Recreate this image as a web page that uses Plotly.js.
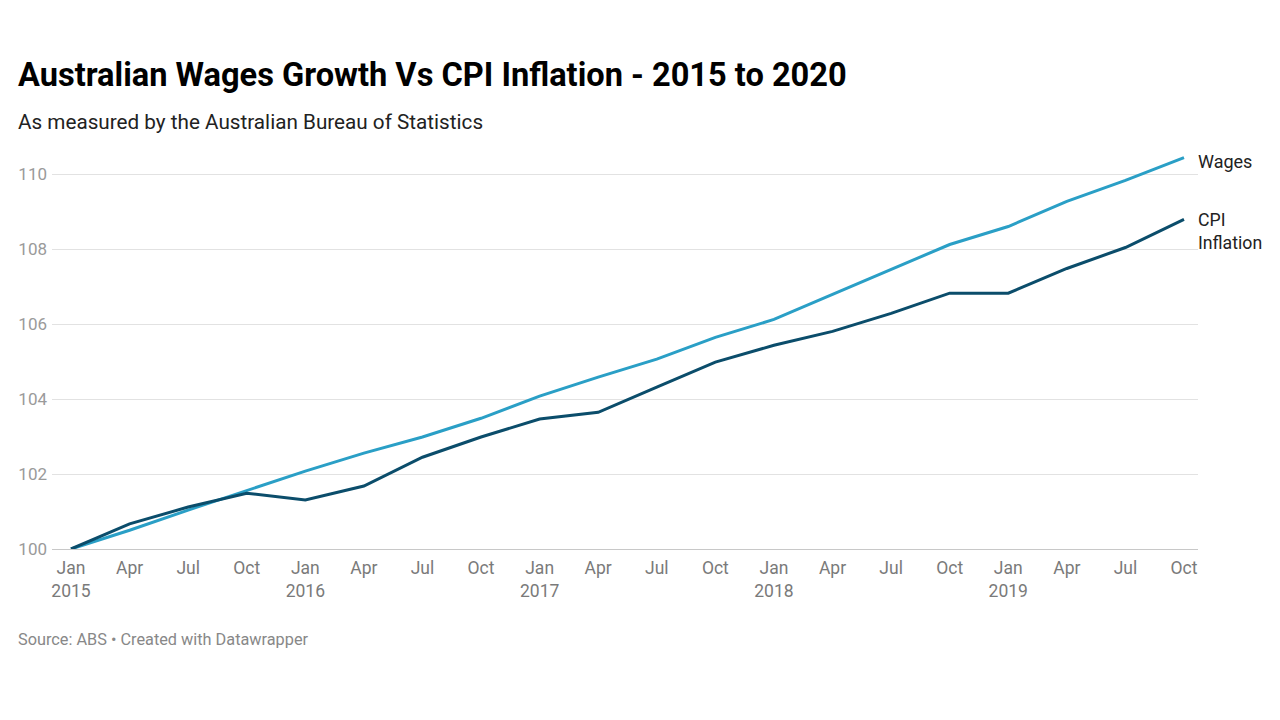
<!DOCTYPE html>
<html>
<head>
<meta charset="utf-8">
<script src="https://cdn.plot.ly/plotly-3.0.1.min.js"></script>
<style>
html,body{margin:0;padding:0;background:#fff;}
#chart{width:1280px;height:720px;}
</style>
</head>
<body>
<div id="chart"></div>
<script>
var quarterLabels = ["Jan<br>2015","Apr","Jul","Oct","Jan<br>2016","Apr","Jul","Oct","Jan<br>2017","Apr","Jul","Oct","Jan<br>2018","Apr","Jul","Oct","Jan<br>2019","Apr","Jul","Oct"];
var wages = [100, 100.5, 101.04, 101.57, 102.08, 102.56, 102.99, 103.49, 104.08, 104.59, 105.07, 105.65, 106.13, 106.8, 107.47, 108.13, 108.61, 109.28, 109.84, 110.45];
var cpi = [100, 100.67, 101.12, 101.49, 101.31, 101.68, 102.45, 102.99, 103.47, 103.65, 104.32, 104.99, 105.44, 105.81, 106.29, 106.83, 106.83, 107.49, 108.05, 108.8];
var yTicks = [100, 102, 104, 106, 108, 110];

var xIdx = quarterLabels.map(function(_, i){ return i; });
var FONT = "Roboto, 'Noto Sans', sans-serif";
var last = xIdx.length - 1;

var PLOT_TOP = 151.5, PLOT_BOTTOM = 549, PLOT_LEFT = 52, PLOT_RIGHT = 1198;
var PH = PLOT_BOTTOM - PLOT_TOP, PW = PLOT_RIGHT - PLOT_LEFT;
function py(pix){ return (PLOT_BOTTOM - pix) / PH; }
function px(pix){ return (pix - PLOT_LEFT) / PW; }

var traces = [
  {x: xIdx, y: wages, type: 'scatter', mode: 'lines', name: 'Wages',
   line: {color: '#2a9fc6', width: 3}, hoverinfo: 'skip'},
  {x: xIdx, y: cpi, type: 'scatter', mode: 'lines', name: 'CPI Inflation',
   line: {color: '#0b4d6b', width: 3}, hoverinfo: 'skip'}
];

var layout = {
  width: 1280, height: 720,
  paper_bgcolor: '#fff', plot_bgcolor: '#fff',
  margin: {l: PLOT_LEFT, r: 1280 - PLOT_RIGHT, t: PLOT_TOP, b: 720 - PLOT_BOTTOM},
  showlegend: false,
  font: {family: FONT},
  title: {
    text: '<b>Australian Wages Growth Vs CPI Inflation - 2015 to 2020</b>',
    font: {family: FONT, size: 32.6, color: '#000'},
    xref: 'container', yref: 'container',
    x: 18/1280, xanchor: 'left',
    y: 1 - 75/720, yanchor: 'middle'
  },
  xaxis: {
    range: [-19/58.58, 19 + 14/58.58],
    tickmode: 'array', tickvals: xIdx, ticktext: quarterLabels,
    showgrid: false, zeroline: false,
    showline: true, linecolor: '#c8c8c8', linewidth: 1,
    ticks: '', tickfont: {family: FONT, size: 17.5, color: '#7a7a7a'},
    ticklabelstandoff: 3,
    fixedrange: true
  },
  yaxis: {
    range: [100, 110.6],
    tickmode: 'array', tickvals: yTicks,
    showgrid: true, gridcolor: '#e2e2e2', gridwidth: 1,
    zeroline: false, showline: false, ticks: '',
    tickfont: {family: FONT, size: 17, color: '#9a9a9a'},
    ticklabelstandoff: 4,
    fixedrange: true
  },
  annotations: [
    {xref: 'paper', yref: 'paper', x: px(18), xanchor: 'left', xshift: -2,
     y: py(121), yanchor: 'middle', showarrow: false,
     text: 'As measured by the Australian Bureau of Statistics',
     font: {family: FONT, size: 20.7, color: '#222'}},
    {xref: 'paper', yref: 'paper', x: px(18), xanchor: 'left', xshift: -2,
     y: py(640), yanchor: 'middle', showarrow: false,
     text: 'Source: ABS \u2022 Created with Datawrapper',
     font: {family: FONT, size: 16.3, color: '#888'}},
    {xref: 'x', yref: 'y', x: last, y: wages[last], xanchor: 'left', yanchor: 'middle',
     xshift: 12, yshift: -4, showarrow: false, align: 'left',
     text: 'Wages', font: {family: FONT, size: 18, color: '#222'}},
    {xref: 'x', yref: 'y', x: last, y: cpi[last], xanchor: 'left', yanchor: 'top',
     xshift: 12, yshift: 11, showarrow: false, align: 'left',
     text: 'CPI<br>Inflation', font: {family: FONT, size: 17.7, color: '#222'}}
  ]
};

Plotly.newPlot('chart', traces, layout, {displayModeBar: false, staticPlot: true});
</script>
</body>
</html>
